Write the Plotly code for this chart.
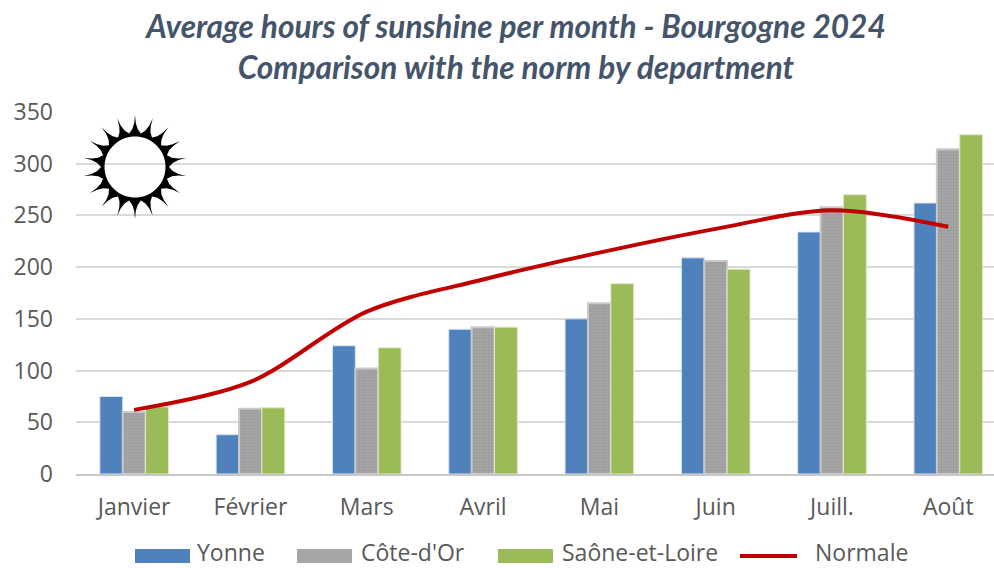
import numpy as np
import plotly.graph_objects as go

months = ["Janvier", "Février", "Mars", "Avril", "Mai", "Juin", "Juill.", "Août"]
yonne = [75, 38, 124, 140, 150, 209, 234, 262]
cote_dor = [60, 63, 102, 142, 165, 206, 258, 314]
saone_loire = [65, 64, 122, 142, 184, 198, 270, 328]
normale = [62, 89, 157, 188, 214, 237, 255, 239]
y_ticks = [0, 50, 100, 150, 200, 250, 300, 350]
title_lines = ["Average hours of sunshine per month - Bourgogne 2024", "Comparison with the norm by department"]

W, H = 994, 568
L, T, B = 76, 112, 474
BLUE, GREY, GREEN, RED = "#4f81bd", "#a5a5a5", "#9bbb59", "#c00000"
TXT = "#595959"
FONT = "Open Sans"

fig = go.Figure()
fig.add_bar(x=months, y=yonne, name="Yonne", marker=dict(color=BLUE, line=dict(color="#dbe5f1", width=1)))
fig.add_bar(x=months, y=cote_dor, name="Côte-d'Or",
            marker=dict(color=GREY, line=dict(color="#c9c9c9", width=2),
                        pattern=dict(shape=".", fgcolor="#8f8f8f", size=3, solidity=0.4)))
fig.add_bar(x=months, y=saone_loire, name="Saône-et-Loire", marker=dict(color=GREEN, line=dict(color="#dfe8c8", width=1)))
fig.add_scatter(x=months, y=normale, name="Normale", mode="lines",
                line=dict(color=RED, width=4, shape="spline", smoothing=0.9))

def px(x):
    return (x - L) / (W - L)
def py(y):
    return (B - y) / (B - T)

# sun decoration
cx, cy = 135, 167
n = 18
step = 2 * np.pi / n
sun_pts = []
for i in range(n):
    a0 = -np.pi / 2 + i * step
    for da, r in [(-0.5 * step, 34), (-0.2 * step, 38), (-0.05 * step, 44), (0, 52), (0.05 * step, 44), (0.2 * step, 38)]:
        sun_pts.append((cx + r * np.cos(a0 + da), cy + r * np.sin(a0 + da)))
star = "M" + "L".join(f"{px(x):.5f},{py(y):.5f}" for x, y in sun_pts) + "Z"
circ_a = np.linspace(0, 2 * np.pi, 72, endpoint=False)
hole = "M" + "L".join(f"{px(cx + 30.5 * np.cos(a)):.5f},{py(cy + 30.5 * np.sin(a)):.5f}" for a in circ_a) + "Z"
shapes = [dict(type="path", xref="paper", yref="paper", path=star + hole, fillcolor="#000000",
               line=dict(width=0), layer="above")]

# legend
annots = []
leg_y = 556
def leg_text(name, tx):
    annots.append(dict(text=name, x=px(tx), y=py(552), xref="paper", yref="paper", xanchor="left", xshift=-2,
                       yanchor="middle", showarrow=False,
                       font=dict(family=FONT, size=23, color=TXT)))
for (name, color, x0, x1, tx) in [("Yonne", BLUE, 135, 190, 197), ("Côte-d'Or", GREY, 297, 352, 361),
                                  ("Saône-et-Loire", GREEN, 498, 553, 562)]:
    shapes.append(dict(type="rect", xref="paper", yref="paper", x0=px(x0), x1=px(x1), y0=py(leg_y - 7),
                       y1=py(leg_y + 7), fillcolor=color, line=dict(width=0)))
    leg_text(name, tx)
shapes.append(dict(type="line", xref="paper", yref="paper", x0=px(740), x1=px(797), y0=py(leg_y), y1=py(leg_y),
                   line=dict(color=RED, width=4)))
leg_text("Normale", 815)

fig.update_layout(
    width=W, height=H, autosize=False, paper_bgcolor="white", plot_bgcolor="white",
    margin=dict(l=L, r=0, t=T, b=H - B),
    barmode="group", bargap=0.41, bargroupgap=0, showlegend=False,
    title=dict(text="<br>".join(f"<b><i>{t}</i></b>" for t in title_lines), x=516 / W, xanchor="center",
               y=1 - 38 / H, yanchor="middle", font=dict(family="Lato", size=31.6, color="#44546a")),
    xaxis=dict(range=[-0.5, 7.393], tickfont=dict(family=FONT, size=23, color=TXT), ticks="", showgrid=False,
               showline=True, linecolor="#c8c8c8", linewidth=2, ticklabelstandoff=11),
    yaxis=dict(range=[0, 350], tickvals=y_ticks, tickfont=dict(family=FONT, size=23, color=TXT), gridcolor="#d9d9d9",
               gridwidth=2, zeroline=False, ticks="", ticklabelstandoff=22),
    shapes=shapes, annotations=annots,
)
fig.write_html("out.html", post_script="document.body.style.margin='0';", config=dict(displayModeBar=False))
